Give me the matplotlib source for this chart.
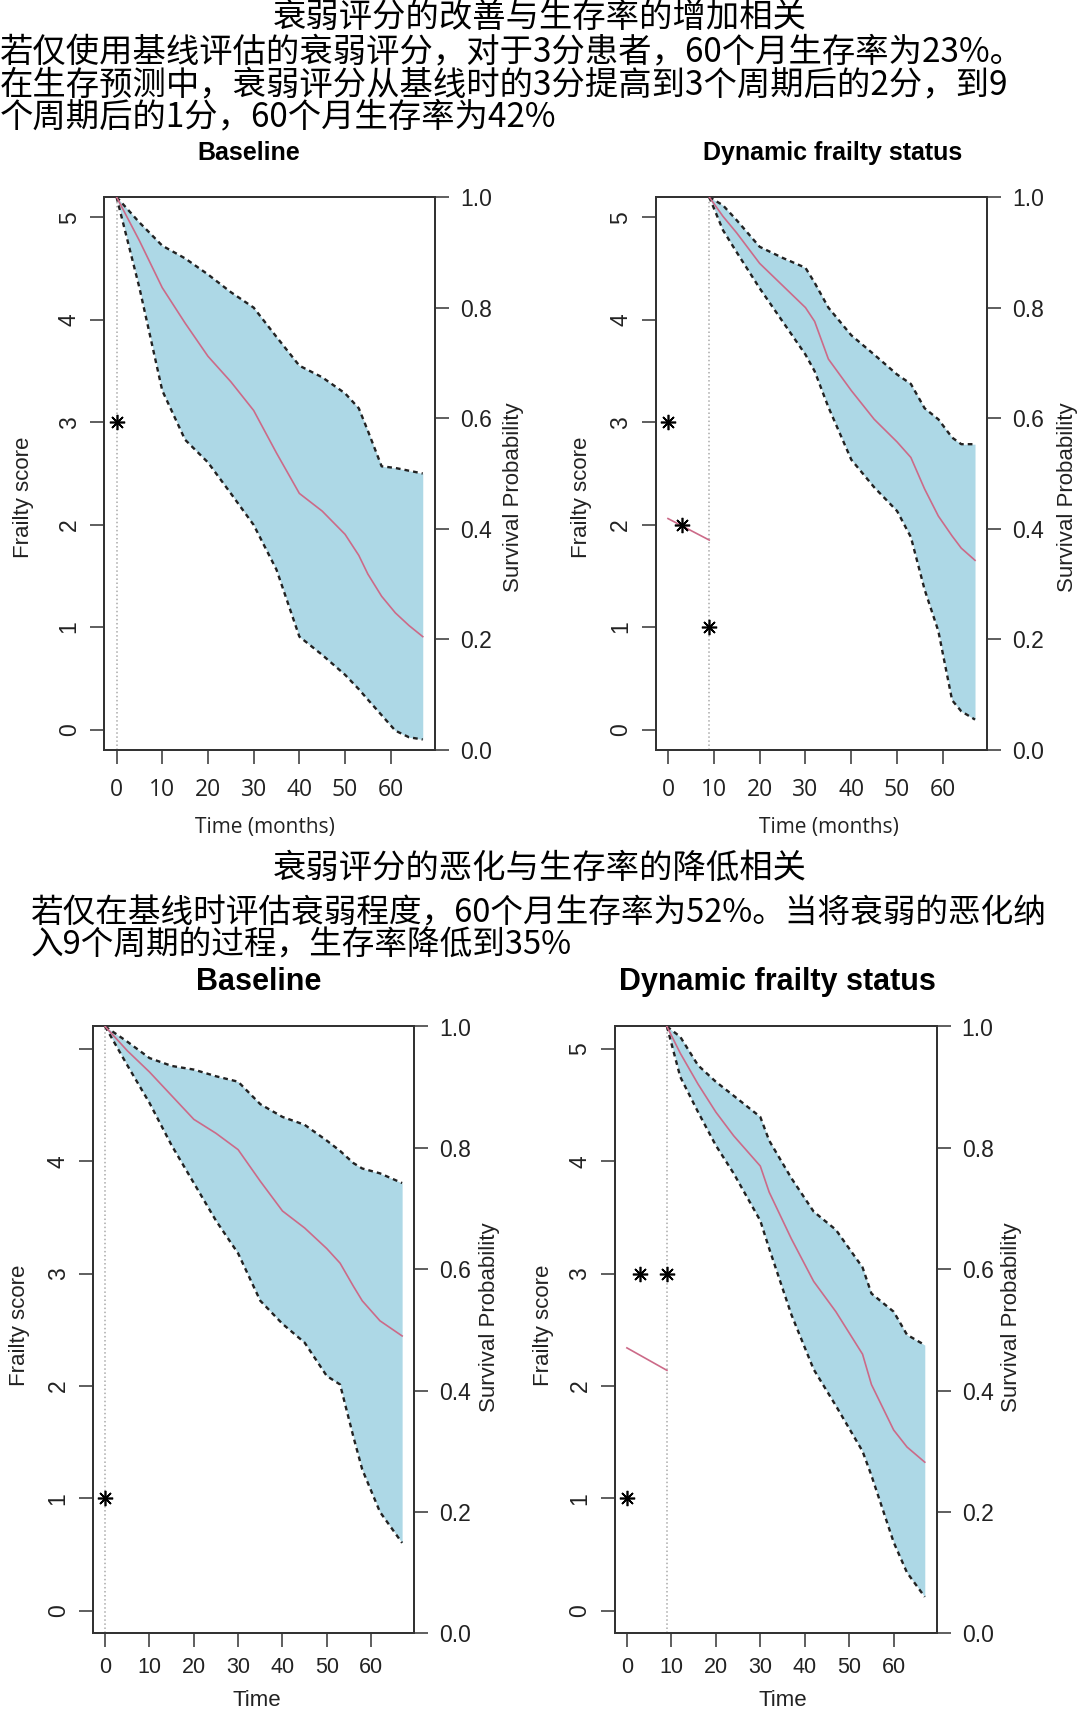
import numpy as np
import matplotlib
matplotlib.use("Agg")
import matplotlib.pyplot as plt

plt.rcParams['font.family'] = ['Liberation Sans', 'DejaVu Sans']
CJK = ['Noto Sans CJK SC', 'DejaVu Sans']

W, H = 1080, 1710

# ---- data ----
# top left: baseline, frailty 3 at baseline
t1 = [0, 5, 10, 15, 20, 25, 30, 35, 40, 45, 50, 53, 55, 58, 61, 64, 67]
up1 = [1.0, 0.954, 0.912, 0.889, 0.86, 0.828, 0.80, 0.747, 0.695, 0.674, 0.645, 0.618, 0.577, 0.513, 0.51, 0.505, 0.50]
mid1 = [1.0, 0.921, 0.836, 0.772, 0.712, 0.666, 0.614, 0.537, 0.464, 0.432, 0.39, 0.352, 0.318, 0.278, 0.248, 0.225, 0.205]
lo1 = [1.0, 0.836, 0.65, 0.561, 0.52, 0.464, 0.407, 0.326, 0.205, 0.172, 0.136, 0.11, 0.091, 0.063, 0.035, 0.023, 0.019]
obs_t1 = [0]
obs_f1 = [3]

# top right: dynamic, 3 -> 2 -> 1
t2 = [9, 12, 15, 20, 25, 30, 32, 35, 40, 45, 50, 53, 56, 59, 62, 64, 67]
up2 = [1.0, 0.985, 0.958, 0.91, 0.89, 0.872, 0.845, 0.80, 0.75, 0.715, 0.679, 0.662, 0.618, 0.598, 0.565, 0.553, 0.553]
mid2 = [1.0, 0.965, 0.935, 0.88, 0.84, 0.80, 0.775, 0.707, 0.65, 0.598, 0.557, 0.529, 0.472, 0.423, 0.387, 0.365, 0.343]
lo2 = [1.0, 0.94, 0.9, 0.835, 0.775, 0.715, 0.685, 0.62, 0.525, 0.475, 0.432, 0.385, 0.29, 0.215, 0.09, 0.07, 0.055]
obs_t2 = [0, 3, 9]
obs_f2 = [3, 2, 1]
fit_t2 = [0, 9]
fit_f2 = [2.06, 1.85]

# bottom left: baseline, frailty 1 at baseline
t3 = [0, 5, 10, 15, 20, 25, 30, 35, 40, 45, 50, 53, 56, 58, 62, 67]
up3 = [1.0, 0.975, 0.948, 0.935, 0.929, 0.918, 0.909, 0.872, 0.851, 0.838, 0.812, 0.795, 0.775, 0.766, 0.758, 0.742]
mid3 = [1.0, 0.96, 0.925, 0.886, 0.847, 0.824, 0.797, 0.745, 0.696, 0.668, 0.634, 0.61, 0.572, 0.548, 0.515, 0.49]
lo3 = [1.0, 0.936, 0.874, 0.804, 0.742, 0.68, 0.626, 0.548, 0.51, 0.479, 0.424, 0.41, 0.324, 0.27, 0.2, 0.149]
obs_t3 = [0]
obs_f3 = [1]

# bottom right: dynamic, 1 -> 3 -> 3
t4 = [9, 12, 16, 20, 24, 30, 32, 37, 42, 47, 53, 55, 60, 63, 67]
up4 = [1.0, 0.983, 0.936, 0.909, 0.886, 0.851, 0.812, 0.75, 0.695, 0.665, 0.603, 0.56, 0.53, 0.492, 0.475]
mid4 = [1.0, 0.956, 0.905, 0.859, 0.82, 0.77, 0.727, 0.65, 0.58, 0.53, 0.46, 0.41, 0.335, 0.307, 0.282]
lo4 = [1.0, 0.917, 0.859, 0.804, 0.758, 0.68, 0.634, 0.525, 0.435, 0.375, 0.30, 0.26, 0.15, 0.10, 0.06]
obs_t4 = [0, 3, 9]
obs_f4 = [1, 3, 3]
fit_t4 = [0, 9]
fit_f4 = [2.34, 2.14]

xticks = [0, 10, 20, 30, 40, 50, 60]
fticks = [0, 1, 2, 3, 4, 5]
sticks = [0.0, 0.2, 0.4, 0.6, 0.8, 1.0]

title1 = "衰弱评分的改善与生存率的增加相关"
text1 = ["若仅使用基线评估的衰弱评分，对于3分患者，60个月生存率为23%。",
         "在生存预测中，衰弱评分从基线时的3分提高到3个周期后的2分，到9",
         "个周期后的1分，60个月生存率为42%"]
title2 = "衰弱评分的恶化与生存率的降低相关"
text2 = ["若仅在基线时评估衰弱程度，60个月生存率为52%。当将衰弱的恶化纳",
         "入9个周期的过程，生存率降低到35%"]

FILL = '#ADD8E6'
RED = '#cc6a88'
EDGE = '#333333'

fig = plt.figure(figsize=(W / 100, H / 100), dpi=100)


def ftext(x, y, s, **kw):
    fig.text(x / W, 1 - y / H, s, **kw)


def panel(box, t, up, mid, lo, obs_t, obs_f, vline, fit_t=None, fit_f=None,
          xfont='Liberation Sans', xsize=15, xpad=12, hide5=False):
    l, top, r, b = box
    ax = fig.add_axes([l / W, 1 - b / H, (r - l) / W, (b - top) / H])
    ax2 = ax.twinx()
    ax.set_xlim(-2.68, 69.68)
    ax.set_ylim(-0.2, 5.2)
    ax2.set_ylim(0, 1)

    ax.axvline(vline, color='#aaaaaa', ls=':', lw=1.1, zorder=1)
    if fit_t is not None:
        ax.plot(fit_t, fit_f, color=RED, lw=1.2, zorder=2)
    ax.plot(obs_t, obs_f, ls='none', marker=(8, 2, 0), ms=11, mec='black',
            mew=1.2, zorder=3)

    ax2.fill_between(t, lo, up, color=FILL, lw=0, zorder=1)
    ax2.plot(t, up, color='#222222', lw=1.7, ls=(0, (2.0, 1.7)), zorder=2)
    ax2.plot(t, lo, color='#222222', lw=1.7, ls=(0, (2.0, 1.7)), zorder=2)
    ax2.plot(t, mid, color=RED, lw=1.2, zorder=3)

    ax.set_xticks(xticks)
    ax.set_yticks(fticks)
    if hide5:
        ax.set_yticklabels(['0', '1', '2', '3', '4', ''])
    ax2.set_yticks(sticks)
    ax2.set_yticklabels(['%.1f' % v for v in sticks])
    for a in (ax, ax2):
        for sp in a.spines.values():
            sp.set_linewidth(1.4)
            sp.set_color(EDGE)
    ax.tick_params(axis='x', direction='out', length=10, width=1.1, color=EDGE,
                   pad=xpad, labelsize=xsize, labelcolor='#222222')
    for lab in ax.get_xticklabels():
        lab.set_fontfamily(xfont)
    ax.tick_params(axis='y', direction='out', length=10, width=1.1, color=EDGE,
                   pad=7, labelsize=16.5, labelrotation=90, labelcolor='#222222')
    for lab in ax.get_yticklabels():
        lab.set_va('center')
    ax2.tick_params(axis='y', direction='out', length=10, width=1.1, color=EDGE,
                    pad=8, labelsize=16.5, labelcolor='#222222')
    return ax, ax2


# top row
panel((104.3, 197, 435, 750), t1, up1, mid1, lo1, obs_t1, obs_f1, 0,
      xfont='Open Sans', xsize=16.5, xpad=10)
panel((655.7, 197, 987.3, 750), t2, up2, mid2, lo2, obs_t2, obs_f2, 9,
      fit_t2, fit_f2, xfont='Open Sans', xsize=16.5, xpad=10)
# bottom row
panel((93.3, 1026.5, 414, 1633.3), t3, up3, mid3, lo3, obs_t3, obs_f3, 0,
      xsize=15.5, xpad=7, hide5=True)
panel((615, 1026.5, 936.7, 1633.3), t4, up4, mid4, lo4, obs_t4, obs_f4, 9,
      fit_t4, fit_f4, xsize=15.5, xpad=7)

# panel titles and axis labels
ftext(248.7, 152.7, "Baseline", ha='center', va='center', fontsize=18, fontweight='bold')
ftext(832.4, 152.7, "Dynamic frailty status", ha='center', va='center', fontsize=18, fontweight='bold')
ftext(259, 982, "Baseline", ha='center', va='center', fontsize=22, fontweight='bold')
ftext(777.8, 982, "Dynamic frailty status", ha='center', va='center', fontsize=22, fontweight='bold')

for x in (265, 829):
    ftext(x, 827, "Time (months)", ha='center', va='center', fontsize=15,
          family='Open Sans', color='#222222')
for x in (256.4, 783):
    ftext(x, 1700, "Time", ha='center', va='center', fontsize=16, color='#222222')

for x, y in ((24, 497.5), (581.5, 497.5), (20, 1325.5), (543, 1325.5)):
    ftext(x, y, "Frailty score", ha='center', va='center', rotation=90,
          fontsize=16, color='#222222')
for x, y in ((514, 497.5), (1067, 497.5), (489, 1317), (1012, 1317)):
    ftext(x, y, "Survival Probability", ha='center', va='center', rotation=90,
          fontsize=16, color='#222222')

# chinese text blocks
ftext(540, 17, title1, ha='center', va='center', fontsize=24, family=CJK)
for i, s in enumerate(text1):
    ftext(0, 52 + i * 32.5, s, ha='left', va='center', fontsize=24, family=CJK)
ftext(540, 868, title2, ha='center', va='center', fontsize=24, family=CJK)
for i, s in enumerate(text2):
    ftext(30.5, 914 + i * 31, s, ha='left', va='center', fontsize=23.5, family=CJK)

fig.savefig("out.png", dpi=100)
